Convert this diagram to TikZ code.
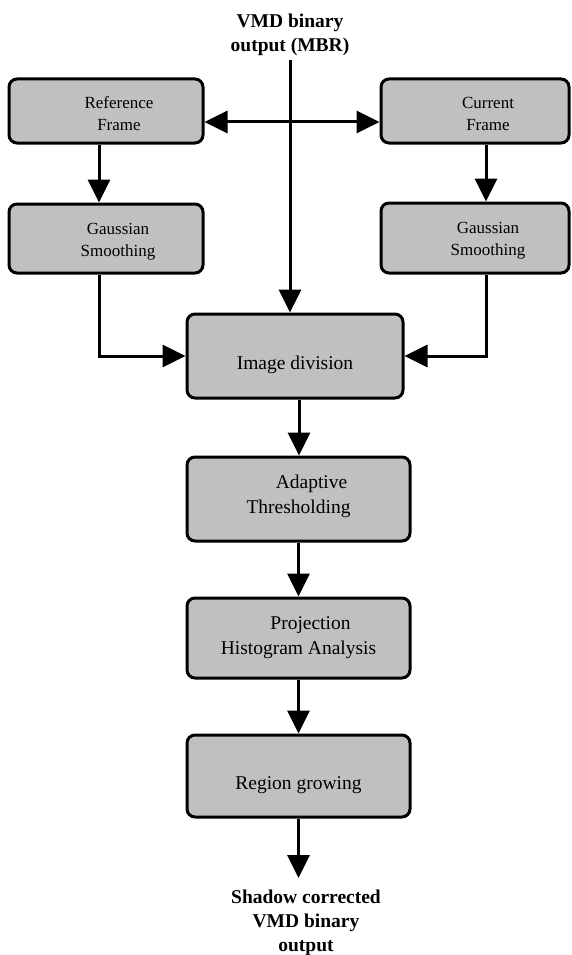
\documentclass[tikz,border=0pt]{standalone}
\usepackage{fontspec}
\setmainfont{Liberation Serif}
\usetikzlibrary{arrows.meta}
\definecolor{boxgray}{RGB}{192,192,192}

\begin{document}
\begin{tikzpicture}[x=1pt, y=-1pt, line width=3pt,
  >={Triangle[length=23pt,width=22pt]},
  blk/.style={draw, fill=boxgray, rounded corners=8pt, inner sep=0pt},
  stxt/.style={align=center, xshift=13pt, yshift=-3pt, font=\fontsize{17}{22}\selectfont},
  btxt/.style={align=center, font=\fontsize{19.5}{25}\selectfont},
  lbl/.style={align=center, inner sep=3pt, font=\fontsize{19.5}{24}\selectfont\bfseries}]
\useasboundingbox (0,0) rectangle (571,955);
% inputs
\node [lbl] (mbr) at (290,35) {VMD binary\\output (MBR)};
\node [blk, minimum width=194pt, minimum height=64pt,
  label={[stxt]center:{Reference\\Frame}}] (ref) at (106,111) {};
\node [blk, minimum width=188pt, minimum height=64pt,
  label={[stxt]center:{Current\\Frame}}] (cur) at (475,111) {};
\node [blk, minimum width=194pt, minimum height=69pt,
  label={[stxt, xshift=-1pt]center:{Gaussian\\Smoothing}}] (gaussL) at (106,238.5) {};
\node [blk, minimum width=188pt, minimum height=70pt,
  label={[stxt]center:{Gaussian\\Smoothing}}] (gaussR) at (475,238) {};
% main chain
\node [blk, minimum width=216pt, minimum height=84pt,
  label={[btxt, yshift=-9pt]center:Image division}] (div) at (295,356) {};
\node [blk, minimum width=223pt, minimum height=84pt,
  label={[btxt, yshift=3pt]center:{\hspace*{26pt}Adaptive\\Thresholding}}] (thr) at (298.5,499) {};
\node [blk, minimum width=223pt, minimum height=80pt,
  label={[btxt]center:{\hspace*{24pt}Projection\\Histogram Analysis}}] (proj) at (298.5,638) {};
\node [blk, minimum width=223pt, minimum height=82pt,
  label={[btxt, yshift=-9pt]center:Region growing}] (reg) at (298.5,776) {};
\node [lbl, anchor=north, inner ysep=10pt] (out) at (306,878) {Shadow corrected\\VMD binary\\output};
% connectors
\draw [<->] ([yshift=-11pt]ref.east) -- ([yshift=-11pt]cur.west);
\draw [->] (mbr.south) -- (mbr.south |- div.north);
\draw [->] ([xshift=-7pt]ref.south) -- ([xshift=-7pt]gaussL.north);
\draw [->] ([xshift=11pt]cur.south) -- ([xshift=11pt]gaussR.north);
\draw [->] ([xshift=-7pt]gaussL.south) |- (div.west);
\draw [->] ([xshift=11pt]gaussR.south) |- (div.east);
\draw [->] ([xshift=4pt]div.south) -- ([xshift=4pt]div.south |- thr.north);
\draw [->] (thr.south) -- (proj.north);
\draw [->] (proj.south) -- (reg.north);
\draw [->] (reg.south) -- (reg.south |- out.north);
\end{tikzpicture}
\end{document}
